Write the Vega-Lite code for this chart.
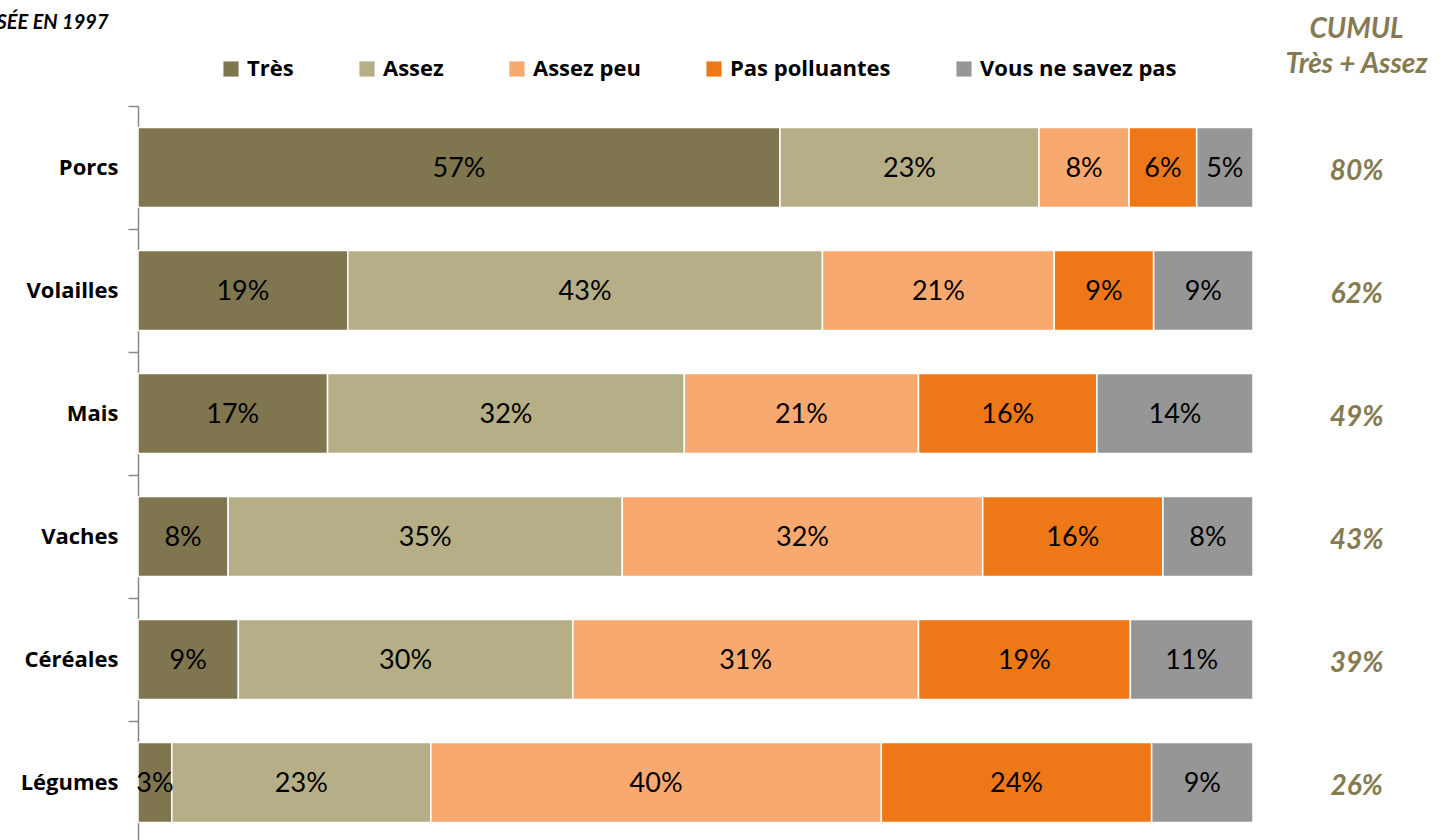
{
  "$schema": "https://vega.github.io/schema/vega-lite/v6.json",
  "width": 1115,
  "height": 738,
  "autosize": {"type": "none"},
  "padding": {"left": 138, "top": 106, "right": 188, "bottom": 0},
  "background": "white",
  "config": {
    "view": {"stroke": null},
    "font": "Lato"
  },
  "datasets": {
    "parts": [
      {"cat": "Porcs", "type": "Très", "k": 1, "value": 57},
      {"cat": "Porcs", "type": "Assez", "k": 2, "value": 23},
      {"cat": "Porcs", "type": "Assez peu", "k": 3, "value": 8},
      {"cat": "Porcs", "type": "Pas polluantes", "k": 4, "value": 6},
      {"cat": "Porcs", "type": "Vous ne savez pas", "k": 5, "value": 5},
      {"cat": "Volailles", "type": "Très", "k": 1, "value": 19},
      {"cat": "Volailles", "type": "Assez", "k": 2, "value": 43},
      {"cat": "Volailles", "type": "Assez peu", "k": 3, "value": 21},
      {"cat": "Volailles", "type": "Pas polluantes", "k": 4, "value": 9},
      {"cat": "Volailles", "type": "Vous ne savez pas", "k": 5, "value": 9},
      {"cat": "Mais", "type": "Très", "k": 1, "value": 17},
      {"cat": "Mais", "type": "Assez", "k": 2, "value": 32},
      {"cat": "Mais", "type": "Assez peu", "k": 3, "value": 21},
      {"cat": "Mais", "type": "Pas polluantes", "k": 4, "value": 16},
      {"cat": "Mais", "type": "Vous ne savez pas", "k": 5, "value": 14},
      {"cat": "Vaches", "type": "Très", "k": 1, "value": 8},
      {"cat": "Vaches", "type": "Assez", "k": 2, "value": 35},
      {"cat": "Vaches", "type": "Assez peu", "k": 3, "value": 32},
      {"cat": "Vaches", "type": "Pas polluantes", "k": 4, "value": 16},
      {"cat": "Vaches", "type": "Vous ne savez pas", "k": 5, "value": 8},
      {"cat": "Céréales", "type": "Très", "k": 1, "value": 9},
      {"cat": "Céréales", "type": "Assez", "k": 2, "value": 30},
      {"cat": "Céréales", "type": "Assez peu", "k": 3, "value": 31},
      {"cat": "Céréales", "type": "Pas polluantes", "k": 4, "value": 19},
      {"cat": "Céréales", "type": "Vous ne savez pas", "k": 5, "value": 11},
      {"cat": "Légumes", "type": "Très", "k": 1, "value": 3},
      {"cat": "Légumes", "type": "Assez", "k": 2, "value": 23},
      {"cat": "Légumes", "type": "Assez peu", "k": 3, "value": 40},
      {"cat": "Légumes", "type": "Pas polluantes", "k": 4, "value": 24},
      {"cat": "Légumes", "type": "Vous ne savez pas", "k": 5, "value": 9}
    ],
    "cumul": [
      {"cat": "Porcs", "cumul": 80},
      {"cat": "Volailles", "cumul": 62},
      {"cat": "Mais", "cumul": 49},
      {"cat": "Vaches", "cumul": 43},
      {"cat": "Céréales", "cumul": 39},
      {"cat": "Légumes", "cumul": 26}
    ]
  },
  "layer": [
    {
      "data": {"name": "parts"},
      "transform": [
        {"stack": "value", "groupby": ["cat"], "sort": [{"field": "k"}], "offset": "normalize", "as": ["x0", "x1"]}
      ],
      "mark": {"type": "bar", "stroke": "white", "strokeWidth": 1.5},
      "encoding": {
        "y": {
          "field": "cat", "type": "nominal",
          "sort": ["Porcs", "Volailles", "Mais", "Vaches", "Céréales", "Légumes"],
          "scale": {"paddingInner": 0.35, "paddingOuter": 0.175},
          "axis": {
            "title": "POSÉE EN 1997",
            "titleAngle": 0,
            "titleX": -30,
            "titleY": -78,
            "titleAlign": "right",
            "titleBaseline": "alphabetic",
            "titleFont": "Lato",
            "titleFontSize": 20,
            "titleFontWeight": "bold",
            "titleFontStyle": "italic",
            "titleColor": "black",
            "labelFont": "Open Sans",
            "labelFontSize": 22,
            "labelFontWeight": "bold",
            "labelColor": "black",
            "labelPadding": 10,
            "labelOffset": 61.5,
            "tickOffset": -61.5,
            "tickSize": 10,
            "tickColor": "#888888",
            "domainColor": "#888888",
            "domainWidth": 1.5,
            "tickWidth": 1.5
          }
        },
        "x": {
          "field": "x0", "type": "quantitative",
          "scale": {"domain": [0, 1], "nice": false, "zero": false},
          "axis": {
            "orient": "top",
            "title": ["CUMUL", "Très + Assez"],
            "titleX": 1218,
            "titleY": -69,
            "titleAlign": "center",
            "titleBaseline": "alphabetic",
            "titleAngle": 0,
            "titleLineHeight": 35,
            "titleFont": "Lato",
            "titleFontSize": 28,
            "titleFontWeight": "bold",
            "titleFontStyle": "italic",
            "titleColor": "#857A51",
            "labels": false,
            "ticks": false,
            "domain": false,
            "grid": false
          }
        },
        "x2": {"field": "x1"},
        "color": {
          "field": "type", "type": "nominal",
          "scale": {
            "domain": ["Très", "Assez", "Assez peu", "Pas polluantes", "Vous ne savez pas"],
            "range": ["#7F7650", "#B5AE86", "#F8A970", "#EE7817", "#969696"]
          },
          "legend": {
            "title": null,
            "orient": "none",
            "direction": "horizontal",
            "legendX": 82,
            "legendY": -48,
            "symbolType": "square",
            "symbolSize": 230,
            "symbolStrokeWidth": 0,
            "symbolOpacity": 1,
            "labelFont": "Open Sans",
            "labelFontSize": 22,
            "labelFontWeight": "bold",
            "labelColor": "black",
            "labelLimit": 0,
            "labelOffset": 5,
            "columnPadding": 62
          }
        }
      }
    },
    {
      "data": {"name": "parts"},
      "transform": [
        {"stack": "value", "groupby": ["cat"], "sort": [{"field": "k"}], "offset": "normalize", "as": ["x0", "x1"]},
        {"calculate": "(datum.x0 + datum.x1) / 2", "as": "mid"},
        {"calculate": "datum.value + '%'", "as": "label"}
      ],
      "mark": {"type": "text", "font": "Lato", "fontSize": 27, "color": "black", "align": "center", "baseline": "middle", "dy": 1},
      "encoding": {
        "y": {"field": "cat", "type": "nominal", "sort": ["Porcs", "Volailles", "Mais", "Vaches", "Céréales", "Légumes"]},
        "x": {"field": "mid", "type": "quantitative"},
        "text": {"field": "label", "type": "nominal"}
      }
    },
    {
      "data": {"name": "cumul"},
      "transform": [
        {"calculate": "datum.cumul + '%'", "as": "label"}
      ],
      "mark": {"type": "text", "font": "Lato", "fontSize": 28, "fontWeight": "bold", "fontStyle": "italic", "color": "#857A51", "align": "center", "baseline": "middle", "dy": 4},
      "encoding": {
        "y": {"field": "cat", "type": "nominal", "sort": ["Porcs", "Volailles", "Mais", "Vaches", "Céréales", "Légumes"]},
        "x": {"datum": 1.093, "type": "quantitative"},
        "text": {"field": "label", "type": "nominal"}
      }
    }
  ]
}
